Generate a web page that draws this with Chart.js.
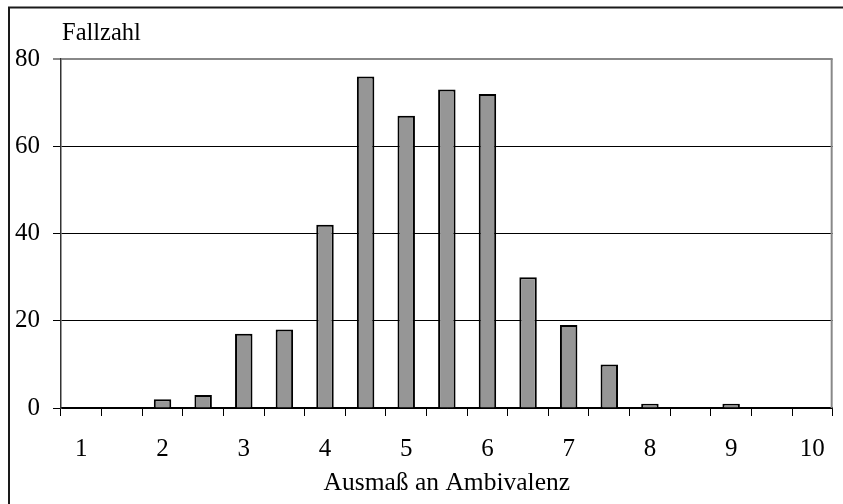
<!DOCTYPE html>
<html>
<head>
<meta charset="utf-8">
<script src="https://cdn.jsdelivr.net/npm/chart.js@4/dist/chart.umd.min.js"></script>
<style>
html,body{margin:0;padding:0;background:#fff;}
canvas{display:block;}
</style>
</head>
<body>
<canvas id="c" width="843" height="504"></canvas>
<script>
const categories = ['1','1,5','2','2,5','3','3,5','4','4,5','5','5,5','6','6,5','7','7,5','8','8,5','9','9,5','10'];
const tickLabels = ['1','','2','','3','','4','','5','','6','','7','','8','','9','','10'];
const fallzahl = [0,0,2,3,17,18,42,76,67,73,72,30,19,10,1,0,1,0,0];
const yTicks = [0,20,40,60,80];
const yAxisLabel = 'Fallzahl';
const xAxisLabel = 'Ausmaß an Ambivalenz';

const FONT = "'Liberation Serif', 'Times New Roman', serif";

const framePlugin = {
  id: 'frame',
  afterDraw(chart) {
    const ctx = chart.ctx;
    const a = chart.chartArea;
    ctx.save();
    ctx.strokeStyle = '#1a1a1a';
    ctx.lineWidth = 2;
    ctx.beginPath();
    ctx.moveTo(9, 504);
    ctx.lineTo(9, 7.5);
    ctx.lineTo(843, 7.5);
    ctx.stroke();
    ctx.strokeStyle = '#888888';
    ctx.lineWidth = 2;
    ctx.beginPath();
    ctx.moveTo(a.right - 1, a.top);
    ctx.lineTo(a.right - 1, a.bottom);
    ctx.stroke();
    ctx.fillStyle = '#000';
    ctx.font = "24.5px " + FONT;
    ctx.textAlign = 'left';
    ctx.textBaseline = 'alphabetic';
    ctx.fillText(yAxisLabel, 62, 40);
    ctx.restore();
  }
};

new Chart(document.getElementById('c'), {
  type: 'bar',
  data: {
    labels: categories,
    datasets: [{
      data: fallzahl,
      backgroundColor: '#969696',
      borderColor: '#000000',
      borderWidth: 2,
      barPercentage: 0.43,
      categoryPercentage: 1.0
    }]
  },
  options: {
    responsive: false,
    animation: false,
    devicePixelRatio: 1,
    layout: { padding: { top: 59, right: 5, left: 0, bottom: 0 } },
    plugins: { legend: { display: false }, tooltip: { enabled: false }, title: { display: false } },
    scales: {
      x: {
        offset: true,
        grid: {
          offset: true,
          drawOnChartArea: false,
          drawTicks: true,
          tickLength: 8,
          color: '#000000',
          lineWidth: 1
        },
        border: { display: true, color: '#000000', width: 1.5 },
        ticks: {
          color: '#000000',
          font: { family: FONT, size: 25 },
          padding: 18,
          maxRotation: 0,
          autoSkip: false,
          callback: (v, i) => tickLabels[i]
        },
        title: {
          display: true,
          text: xAxisLabel,
          color: '#000000',
          font: { family: FONT, size: 25.5 },
          padding: { top: 0, bottom: 5 }
        },
        afterFit(scale) { scale.height = 96; }
      },
      y: {
        min: 0,
        max: 80,
        afterBuildTicks(scale) { scale.ticks = yTicks.map(v => ({ value: v })); },
        grid: {
          drawTicks: true,
          tickLength: 8,
          color: ctx => (ctx.tick && ctx.tick.value === 80) ? '#888888' : '#000000',
          lineWidth: ctx => (ctx.tick && ctx.tick.value === 80) ? 2 : 1
        },
        border: { display: true, color: '#333333', width: 1.5 },
        ticks: {
          color: '#000000',
          font: { family: FONT, size: 25 },
          padding: 13
        },
        afterFit(scale) { scale.width = 61; }
      }
    }
  },
  plugins: [framePlugin]
});
</script>
</body>
</html>
